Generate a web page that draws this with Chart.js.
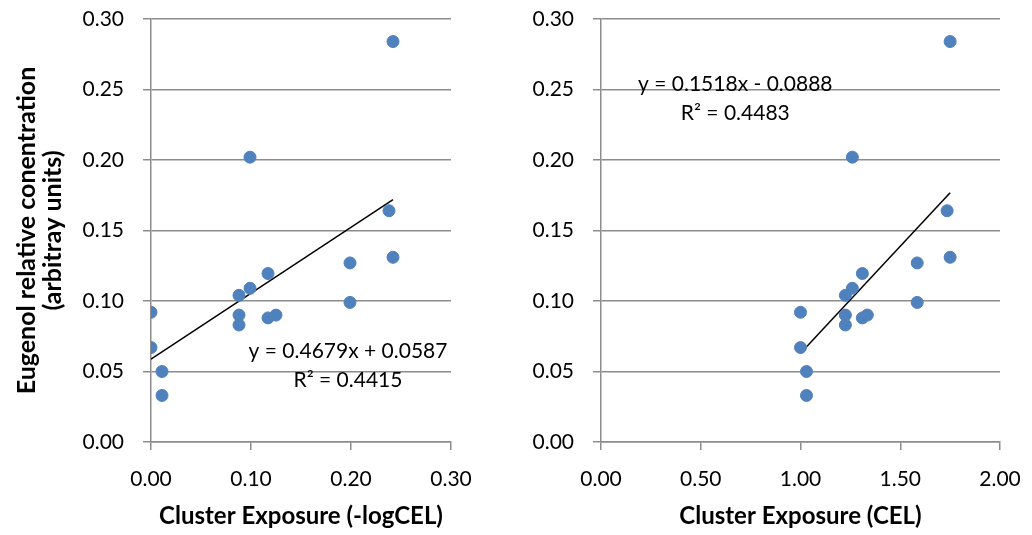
<!DOCTYPE html>
<html>
<head>
<meta charset="utf-8">
<script src="https://cdn.jsdelivr.net/npm/chart.js@4"></script>
<style>
  html, body { margin: 0; padding: 0; background: #fff; }
  .wrap { position: absolute; top: 0; height: 535px; }
  #leftWrap { left: 0; width: 480px; }
  #rightWrap { left: 480px; width: 552px; }
</style>
</head>
<body>
<div class="wrap" id="leftWrap"><canvas id="leftChart"></canvas></div>
<div class="wrap" id="rightWrap"><canvas id="rightChart"></canvas></div>
<script>
// eugenol relative concentration (same samples in both panels)
const eugenol = [0.284, 0.202, 0.164, 0.131, 0.127, 0.1195, 0.109, 0.104, 0.099,
                 0.092, 0.090, 0.088, 0.090, 0.083, 0.067, 0.050, 0.033];
// cluster exposure, -logCEL (left panel)
const exposureLog = [0.242, 0.099, 0.238, 0.242, 0.199, 0.117, 0.099, 0.088, 0.199,
                     0.000, 0.088, 0.117, 0.125, 0.088, 0.000, 0.011, 0.011];
// cluster exposure, CEL (right panel)
const exposureCel = [1.75, 1.26, 1.735, 1.75, 1.585, 1.31, 1.26, 1.225, 1.585,
                     1.00, 1.225, 1.31, 1.335, 1.225, 1.00, 1.03, 1.03];

// linear trendlines as printed on the chart
const leftFit = { slope: 0.4679, intercept: 0.0587, label: 'y = 0.4679x + 0.0587', r2: 'R² = 0.4415' };
const rightFit = { slope: 0.1518, intercept: -0.0888, label: 'y = 0.1518x - 0.0888', r2: 'R² = 0.4483' };

const yTicks = [0, 0.05, 0.10, 0.15, 0.20, 0.25, 0.30];

const FONT = 'Lato, "Open Sans", sans-serif';
const GRID = '#8c8c8c';
const DOT = '#4f81bd';

function trendPoints(xs, fit) {
    const lo = Math.min(...xs), hi = Math.max(...xs);
    return [{ x: lo, y: fit.slope * lo + fit.intercept }, { x: hi, y: fit.slope * hi + fit.intercept }];
}

// draws the equation text anchored in data units
const equationLabel = {
    id: 'equationLabel',
    afterDatasetsDraw(chart, args, opts) {
        const { ctx, scales } = chart;
        ctx.save();
        ctx.font = '21px ' + FONT;
        ctx.fillStyle = '#000';
        ctx.textAlign = 'center';
        ctx.textBaseline = 'middle';
        opts.lines.forEach(l => {
            ctx.fillText(l.text, scales.x.getPixelForValue(l.x), scales.y.getPixelForValue(l.y));
        });
        ctx.restore();
    }
};

function makeChart(canvasId, xs, fit, xOpts, yAxisWidth, showYTitle, textAt) {
    const points = xs.map((x, i) => ({ x: x, y: eugenol[i] }));
    return new Chart(document.getElementById(canvasId), {
        type: 'scatter',
        data: {
            datasets: [{
                data: points,
                backgroundColor: DOT,
                borderColor: DOT,
                pointRadius: 6,
                pointHoverRadius: 6
            }, {
                type: 'line',
                data: trendPoints(xs, fit),
                borderColor: '#000',
                borderWidth: 1.5,
                pointRadius: 0,
                fill: false
            }]
        },
        options: {
            responsive: true,
            maintainAspectRatio: false,
            animation: false,
            events: [],
            layout: { padding: { left: 0, right: xOpts.padRight, top: 19, bottom: 0 } },
            plugins: {
                legend: { display: false },
                tooltip: { enabled: false },
                equationLabel: {
                    lines: [
                        { text: fit.label, x: textAt.x, y: textAt.y1 },
                        { text: fit.r2, x: textAt.x, y: textAt.y2 }
                    ]
                }
            },
            scales: {
                x: {
                    type: 'linear',
                    min: xOpts.min,
                    max: xOpts.max,
                    afterFit: s => { s.height = 93; s.paddingLeft = 0; s.paddingRight = 0; },
                    ticks: {
                        stepSize: xOpts.step,
                        color: '#000',
                        font: { family: FONT, size: 21 },
                        padding: 17,
                        callback: v => v.toFixed(2)
                    },
                    grid: { drawOnChartArea: false, color: GRID, lineWidth: 1.5, tickLength: 8 },
                    border: { color: GRID, width: 1.5 },
                    title: {
                        display: true,
                        text: xOpts.title,
                        color: '#000',
                        font: { family: FONT, size: 24, weight: 'bold' },
                        padding: { top: 0, bottom: 4 }
                    }
                },
                y: {
                    type: 'linear',
                    min: 0,
                    max: 0.30,
                    afterFit: s => { s.width = yAxisWidth; s.paddingTop = 0; s.paddingBottom = 0; },
                    afterBuildTicks: s => { s.ticks = yTicks.map(v => ({ value: v })); },
                    ticks: {
                        color: '#000',
                        font: { family: FONT, size: 21 },
                        padding: 19,
                        callback: v => v.toFixed(2)
                    },
                    grid: { color: GRID, lineWidth: 1.5, tickLength: 8 },
                    border: { color: GRID, width: 1.5 },
                    title: {
                        display: showYTitle,
                        text: ['Eugenol relative conentration', '(arbitray units)'],
                        color: '#000',
                        font: { family: FONT, size: 25, weight: 'bold', lineHeight: 1.05 },
                        padding: { top: 14, bottom: 0 }
                    }
                }
            }
        },
        plugins: [equationLabel]
    });
}

makeChart('leftChart', exposureLog, leftFit,
    { min: 0, max: 0.30, step: 0.10, padRight: 29, title: 'Cluster Exposure (-logCEL)' },
    151, true, { x: 0.197, y1: 0.0646, y2: 0.0438 });

makeChart('rightChart', exposureCel, rightFit,
    { min: 0, max: 2.0, step: 0.50, padRight: 32, title: 'Cluster Exposure (CEL)' },
    121, false, { x: 0.673, y1: 0.2539, y2: 0.2333 });
</script>
</body>
</html>
